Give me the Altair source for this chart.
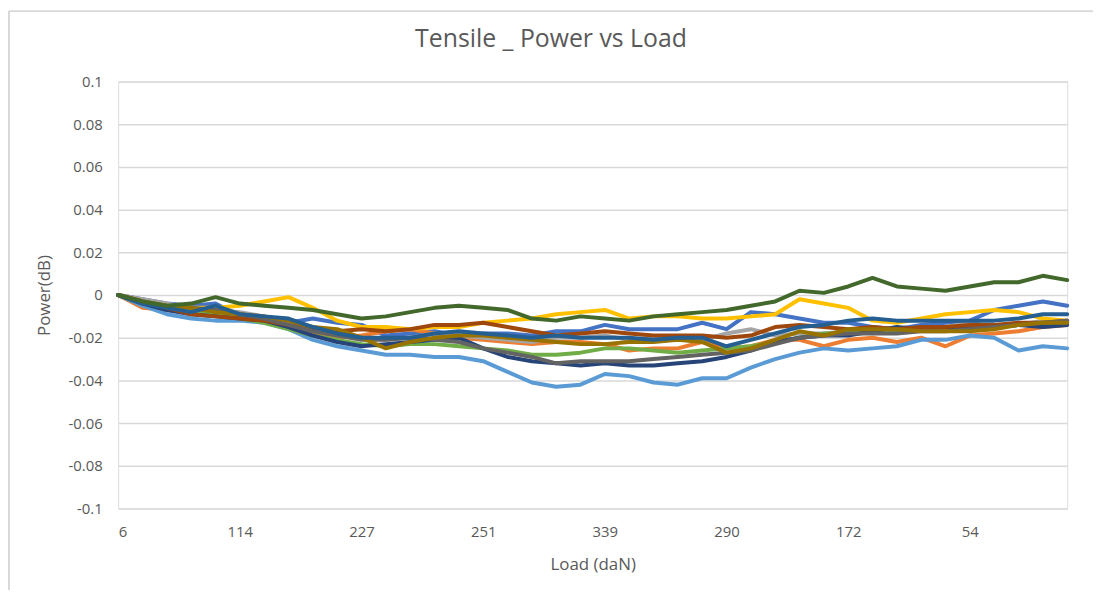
import altair as alt
import pandas as pd

# x positions are category indices (every 4th reading); labels shown every 20 categories
sample_index = [0, 4, 8, 12, 16, 20, 24, 28, 32, 36, 40, 44, 48, 52, 56, 60, 64, 68, 72, 76,
                80, 84, 88, 92, 96, 100, 104, 108, 112, 116, 120, 124, 128, 132, 136, 140, 144, 148, 152, 156]
x_tick_index = [0, 20, 40, 60, 80, 100, 120, 140]
x_tick_labels = ["6", "114", "227", "251", "339", "290", "172", "54"]
y_ticks = [-0.1, -0.08, -0.06, -0.04, -0.02, 0, 0.02, 0.04, 0.06, 0.08, 0.1]
chart_title = "Tensile _ Power vs Load"

series_names = ["Series1", "Series2", "Series3", "Series4", "Series5", "Series6",
                "Series7", "Series8", "Series9", "Series10", "Series11", "Series12"]
series_colors = ["#4472C4", "#ED7D31", "#A5A5A5", "#FFC000", "#5B9BD5", "#70AD47",
                 "#264478", "#9E480E", "#636363", "#997300", "#255E91", "#43682B"]

s_blue = [0, -0.002, -0.004, -0.005, -0.004, -0.010, -0.012, -0.013, -0.011, -0.013,
          -0.014, -0.019, -0.018, -0.017, -0.019, -0.018, -0.018, -0.019, -0.017, -0.017,
          -0.014, -0.016, -0.016, -0.016, -0.013, -0.016, -0.008, -0.009, -0.011, -0.013,
          -0.013, -0.015, -0.016, -0.014, -0.013, -0.012, -0.007, -0.005, -0.003, -0.005]
s_orange = [0, -0.006, -0.007, -0.008, -0.009, -0.010, -0.012, -0.014, -0.018, -0.020,
            -0.019, -0.017, -0.016, -0.018, -0.020, -0.021, -0.022, -0.023, -0.022, -0.022,
            -0.023, -0.026, -0.025, -0.025, -0.022, -0.025, -0.024, -0.021, -0.021, -0.024,
            -0.021, -0.020, -0.022, -0.020, -0.024, -0.019, -0.018, -0.017, -0.015, -0.014]
s_gray = [0, -0.002, -0.004, -0.006, -0.007, -0.008, -0.010, -0.013, -0.016, -0.019,
          -0.020, -0.021, -0.020, -0.018, -0.019, -0.020, -0.021, -0.022, -0.020, -0.020,
          -0.019, -0.021, -0.020, -0.020, -0.021, -0.018, -0.016, -0.019, -0.018, -0.018,
          -0.017, -0.017, -0.016, -0.016, -0.015, -0.013, -0.015, -0.014, -0.012, -0.012]
s_yellow = [0, -0.003, -0.005, -0.006, -0.006, -0.005, -0.003, -0.001, -0.006, -0.012,
            -0.015, -0.015, -0.016, -0.015, -0.015, -0.013, -0.012, -0.011, -0.009, -0.008,
            -0.007, -0.011, -0.010, -0.010, -0.011, -0.011, -0.010, -0.009, -0.002, -0.004,
            -0.006, -0.012, -0.013, -0.011, -0.009, -0.008, -0.007, -0.008, -0.011, -0.012]
s_lightblue = [0, -0.005, -0.009, -0.011, -0.012, -0.012, -0.013, -0.016, -0.021, -0.024,
               -0.026, -0.028, -0.028, -0.029, -0.029, -0.031, -0.036, -0.041, -0.043, -0.042,
               -0.037, -0.038, -0.041, -0.042, -0.039, -0.039, -0.034, -0.030, -0.027, -0.025,
               -0.026, -0.025, -0.024, -0.021, -0.021, -0.019, -0.020, -0.026, -0.024, -0.025]
s_green = [0, -0.004, -0.006, -0.008, -0.009, -0.011, -0.013, -0.016, -0.019, -0.021,
           -0.023, -0.024, -0.023, -0.023, -0.024, -0.025, -0.026, -0.028, -0.028, -0.027,
           -0.025, -0.025, -0.026, -0.027, -0.026, -0.025, -0.024, -0.022, -0.020, -0.018,
           -0.018, -0.017, -0.017, -0.016, -0.016, -0.015, -0.015, -0.014, -0.013, -0.013]
s_navy = [0, -0.004, -0.007, -0.009, -0.010, -0.011, -0.012, -0.015, -0.019, -0.022,
          -0.024, -0.023, -0.022, -0.021, -0.020, -0.025, -0.029, -0.031, -0.032, -0.033,
          -0.032, -0.033, -0.033, -0.032, -0.031, -0.029, -0.026, -0.022, -0.020, -0.019,
          -0.019, -0.017, -0.015, -0.016, -0.015, -0.016, -0.015, -0.014, -0.015, -0.014]
s_brown = [0, -0.003, -0.006, -0.009, -0.010, -0.011, -0.012, -0.014, -0.016, -0.017,
           -0.016, -0.017, -0.016, -0.014, -0.014, -0.013, -0.015, -0.017, -0.019, -0.018,
           -0.017, -0.018, -0.019, -0.019, -0.019, -0.020, -0.019, -0.015, -0.014, -0.015,
           -0.016, -0.015, -0.016, -0.015, -0.015, -0.014, -0.014, -0.013, -0.013, -0.012]
s_darkgray = [0, -0.003, -0.005, -0.006, -0.007, -0.009, -0.011, -0.014, -0.017, -0.019,
              -0.021, -0.021, -0.020, -0.021, -0.022, -0.025, -0.027, -0.029, -0.032, -0.031,
              -0.031, -0.031, -0.030, -0.029, -0.028, -0.027, -0.026, -0.023, -0.020, -0.019,
              -0.018, -0.018, -0.018, -0.017, -0.017, -0.016, -0.015, -0.014, -0.013, -0.012]
s_olive = [0, -0.003, -0.005, -0.006, -0.008, -0.009, -0.010, -0.012, -0.015, -0.016,
           -0.020, -0.025, -0.022, -0.020, -0.019, -0.019, -0.020, -0.021, -0.022, -0.023,
           -0.023, -0.022, -0.022, -0.021, -0.022, -0.027, -0.025, -0.021, -0.017, -0.019,
           -0.016, -0.016, -0.016, -0.017, -0.017, -0.017, -0.016, -0.014, -0.013, -0.013]
s_steel = [0, -0.004, -0.006, -0.008, -0.005, -0.009, -0.010, -0.011, -0.015, -0.018,
           -0.020, -0.020, -0.020, -0.018, -0.017, -0.018, -0.019, -0.020, -0.019, -0.020,
           -0.020, -0.020, -0.021, -0.020, -0.020, -0.024, -0.021, -0.018, -0.015, -0.014,
           -0.012, -0.011, -0.012, -0.012, -0.012, -0.012, -0.012, -0.011, -0.009, -0.009]
s_darkgreen = [0, -0.003, -0.005, -0.004, -0.001, -0.004, -0.005, -0.006, -0.007, -0.009,
               -0.011, -0.010, -0.008, -0.006, -0.005, -0.006, -0.007, -0.011, -0.012, -0.010,
               -0.011, -0.012, -0.010, -0.009, -0.008, -0.007, -0.005, -0.003, 0.002, 0.001,
               0.004, 0.008, 0.004, 0.003, 0.002, 0.004, 0.006, 0.006, 0.009, 0.007]

all_series = [s_blue, s_orange, s_gray, s_yellow, s_lightblue, s_green,
              s_navy, s_brown, s_darkgray, s_olive, s_steel, s_darkgreen]

rows = []
for name, vals in zip(series_names, all_series):
    for i, v in zip(sample_index, vals):
        rows.append({"series": name, "idx": i, "power": v})
df = pd.DataFrame(rows)

FONT = "Open Sans"
TXT = "#595959"
GRID = "#d9d9d9"

idx_arr = "[" + ",".join(str(i) for i in x_tick_index) + "]"
lab_arr = "[" + ",".join("'" + s + "'" for s in x_tick_labels) + "]"
x_label_expr = f"{lab_arr}[indexof({idx_arr}, datum.value)]"
y_label_expr = "replace(format(datum.value, '~g'), '\u2212', '-')"

lines = alt.Chart(df).mark_line(strokeWidth=4, strokeJoin="round", strokeCap="round").encode(
    x=alt.X("idx:Q",
            scale=alt.Scale(domain=[0, 156], nice=False, zero=False),
            axis=alt.Axis(values=x_tick_index, labelExpr=x_label_expr, title="Load (daN)",
                          grid=False, ticks=False, domain=False, labelPadding=16,
                          labelFont=FONT, labelFontSize=15, labelColor=TXT,
                          titleFont=FONT, titleFontSize=17, titleColor=TXT,
                          titleFontWeight="normal", titleY=56, titleBaseline="middle")),
    y=alt.Y("power:Q",
            scale=alt.Scale(domain=[-0.1, 0.1], nice=False, zero=False),
            axis=alt.Axis(values=y_ticks, labelExpr=y_label_expr, title="Power(dB)",
                          grid=True, gridColor=GRID, gridWidth=1.5, ticks=False, domain=False,
                          labelPadding=16, labelFont=FONT, labelFontSize=15, labelColor=TXT,
                          titleFont=FONT, titleFontSize=17, titleColor=TXT,
                          titleFontWeight="normal", titleX=-74, titleBaseline="middle")),
    color=alt.Color("series:N", scale=alt.Scale(domain=series_names, range=series_colors),
                    legend=None),
    order=alt.Order("idx:Q"),
)

frame_data = alt.Data(values=[{"k": 1}])
top_border = alt.Chart(frame_data).mark_rule(color=GRID, strokeWidth=2).encode(
    x=alt.value(-110), x2=alt.value(990), y=alt.value(-71))
left_border = alt.Chart(frame_data).mark_rule(color=GRID, strokeWidth=2).encode(
    x=alt.value(-110), y=alt.value(-71), y2=alt.value(520))
title_text = alt.Chart(alt.Data(values=[{"t": chart_title}])).mark_text(
    font=FONT, fontSize=25, color=TXT, align="center", baseline="alphabetic"
).encode(x=alt.value(436), y=alt.value(-35), text="t:N")

chart = alt.layer(top_border, left_border, title_text, lines).properties(
    width=956, height=430,
    padding={"left": 111, "top": 72, "right": 26, "bottom": 80},
    autosize=alt.AutoSizeParams(type="none"),
).configure_view(stroke=None).configure(background="white")

chart.save("out.html", embed_options={"renderer": "svg", "actions": False})
